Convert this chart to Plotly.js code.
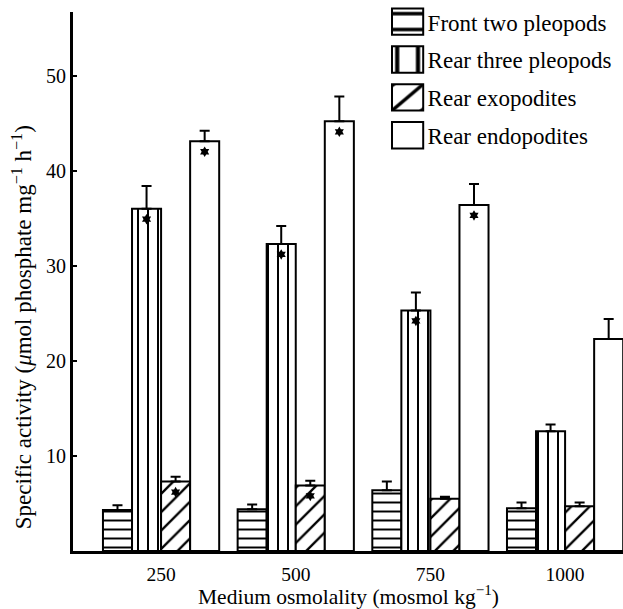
<!DOCTYPE html>
<html><head><meta charset="utf-8">
<script src="https://cdn.plot.ly/plotly-3.0.1.min.js"></script>
<style>html,body{margin:0;padding:0;background:#fff}</style>
</head><body><div id="chart" style="width:623px;height:609px"></div>
<script>
// Data
const osmolality = ['250', '500', '750', '1000'];
const seriesNames = ['Front two pleopods', 'Rear three pleopods', 'Rear exopodites', 'Rear endopodites'];
const frontTwo     = [4.3, 4.4, 6.4, 4.5];
const frontTwoErr  = [0.5, 0.5, 0.9, 0.6];
const rearThree    = [36.0, 32.3, 25.3, 12.6];
const rearThreeErr = [2.4, 1.9, 1.9, 0.7];
const rearExo      = [7.3, 6.9, 5.5, 4.7];
const rearExoErr   = [0.5, 0.5, 0.2, 0.4];
const rearEndo     = [43.1, 45.2, 36.4, 22.3];
const rearEndoErr  = [1.1, 2.6, 2.2, 2.1];
// significance asterisks (1 = marked)
const frontTwoSig  = [0, 0, 0, 0];
const rearThreeSig = [1, 1, 1, 0];
const rearExoSig   = [1, 1, 0, 0];
const rearEndoSig  = [1, 1, 1, 0];
const yTickVals = [10, 20, 30, 40, 50];

const values = [frontTwo, rearThree, rearExo, rearEndo];
const errs = [frontTwoErr, rearThreeErr, rearExoErr, rearEndoErr];
const sigs = [frontTwoSig, rearThreeSig, rearExoSig, rearEndoSig];
const patterns = [
  {shape: '-', size: 9, solidity: 0.22},
  {shape: '|', size: 10, solidity: 0.2},
  {shape: '/', size: 13, solidity: 0.18},
  {shape: '', size: 8, solidity: 0.2}
];

const FONT = '"Liberation Serif", "Times New Roman", serif';
const groupX = osmolality.map((_, i) => i);
const BARGAP = 0.137;
const barW = (1 - BARGAP) / values.length;

const data = [];
values.forEach((v, s) => {
  data.push({
    type: 'bar', name: seriesNames[s], x: groupX, y: v,
    legendgroup: 'g' + s,
    marker: {
      color: 'white',
      line: {color: 'black', width: 2},
      pattern: Object.assign({fgcolor: 'black', bgcolor: 'white', fillmode: 'replace'}, patterns[s])
    },
    error_y: {type: 'data', symmetric: false, array: errs[s], arrayminus: v.map(() => 0),
              color: 'black', thickness: 2, width: 5},
    hoverinfo: 'skip'
  });
});
values.forEach((v, s) => {
  const xs = [], ys = [];
  v.forEach((val, g) => {
    if (sigs[s][g]) { xs.push(g + (s - 1.5) * barW); ys.push(val - 1.1); }
  });
  data.push({
    type: 'scatter', mode: 'markers', x: xs, y: ys, showlegend: false,
    marker: {symbol: 'hexagram', size: 8, color: 'black', line: {width: 0}},
    hoverinfo: 'skip'
  });
});

const layout = {
  width: 623, height: 609,
  margin: {l: 73, r: 0, t: 8, b: 58},
  paper_bgcolor: 'white', plot_bgcolor: 'white',
  font: {family: FONT, color: 'black', size: 20},
  barmode: 'group', bargap: BARGAP, bargroupgap: 0,
  xaxis: {
    range: [-0.654, 3.43], tickvals: groupX, ticktext: osmolality,
    showline: true, linewidth: 3, linecolor: 'black', ticks: '',
    showgrid: false, zeroline: false, tickfont: {size: 19.5, family: FONT},
    ticklabelstandoff: 4
  },
  yaxis: {
    range: [0, 56.7], tickvals: yTickVals,
    showline: true, linewidth: 3, linecolor: 'black',
    ticks: 'inside', ticklen: 4, tickwidth: 2, tickcolor: 'black',
    showgrid: false, zeroline: false, tickfont: {size: 20, family: FONT}
  },
  annotations: [{
    text: 'Specific activity (<i>\u03bc</i>mol phosphate mg<sup>\u22121</sup> h<sup>\u22121</sup>)',
    xref: 'paper', yref: 'paper', x: -0.0927, y: 0.415,
    xanchor: 'center', yanchor: 'middle', textangle: -90, showarrow: false,
    font: {size: 23, family: FONT, color: 'black'}
  }, {
    text: 'Medium osmolality (mosmol kg<sup>\u22121</sup>)',
    xref: 'paper', yref: 'paper', x: 0.5, y: -0.083,
    xanchor: 'center', yanchor: 'middle', showarrow: false,
    font: {size: 21.5, family: FONT, color: 'black'}
  }],
  showlegend: true,
  legend: {
    x: 0.572, y: 1.022, xanchor: 'left', yanchor: 'top',
    bgcolor: 'rgba(0,0,0,0)', font: {size: 23, family: FONT},
    traceorder: 'grouped', tracegroupgap: 5, itemwidth: 30
  }
};

Plotly.newPlot('chart', data, layout, {staticPlot: true}).then(gd => {
  gd.querySelectorAll('.legend .legendpoints path').forEach(p => {
    const t = p.getAttribute('transform') || '';
    p.setAttribute('transform', t + ' scale(2.6,2.2)');
    p.style.vectorEffect = 'non-scaling-stroke';
  });
});
</script></body></html>
